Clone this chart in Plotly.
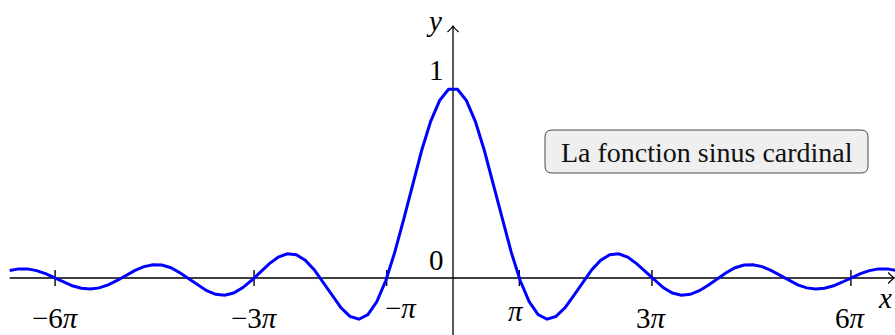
import math
import plotly.graph_objects as go

# Sample abscissae on [-21, 21] (100 points) and the plotted values of sin(x)/x
x_samples = [
    -21.000, -20.576, -20.152, -19.727, -19.303, -18.879, -18.455, -18.030, -17.606, -17.182,
    -16.758, -16.333, -15.909, -15.485, -15.061, -14.636, -14.212, -13.788, -13.364, -12.939,
    -12.515, -12.091, -11.667, -11.242, -10.818, -10.394, -9.970, -9.545, -9.121, -8.697,
    -8.273, -7.848, -7.424, -7.000, -6.576, -6.152, -5.727, -5.303, -4.879, -4.455,
    -4.030, -3.606, -3.182, -2.758, -2.333, -1.909, -1.485, -1.061, -0.636, -0.212,
    0.212, 0.636, 1.061, 1.485, 1.909, 2.333, 2.758, 3.182, 3.606, 4.030,
    4.455, 4.879, 5.303, 5.727, 6.152, 6.576, 7.000, 7.424, 7.848, 8.273,
    8.697, 9.121, 9.545, 9.970, 10.394, 10.818, 11.242, 11.667, 12.091, 12.515,
    12.939, 13.364, 13.788, 14.212, 14.636, 15.061, 15.485, 15.909, 16.333, 16.758,
    17.182, 17.606, 18.030, 18.455, 18.879, 19.303, 19.727, 20.152, 20.576, 21.000,
]
sinc_values = [
    0.040, 0.048, 0.048, 0.039, 0.023, 0.002, -0.021, -0.041, -0.054, -0.058,
    -0.052, -0.036, -0.013, 0.014, 0.040, 0.060, 0.070, 0.068, 0.054, 0.028,
    -0.004, -0.038, -0.067, -0.086, -0.091, -0.079, -0.052, -0.013, 0.033, 0.076,
    0.110, 0.127, 0.122, 0.094, 0.044, -0.021, -0.092, -0.157, -0.202, -0.217,
    -0.193, -0.124, -0.013, 0.136, 0.310, 0.494, 0.671, 0.823, 0.934, 0.993,
    0.993, 0.934, 0.823, 0.671, 0.494, 0.310, 0.136, -0.013, -0.124, -0.193,
    -0.217, -0.202, -0.157, -0.092, -0.021, 0.044, 0.094, 0.122, 0.127, 0.110,
    0.076, 0.033, -0.013, -0.052, -0.079, -0.091, -0.086, -0.067, -0.038, -0.004,
    0.028, 0.054, 0.068, 0.070, 0.060, 0.040, 0.014, -0.013, -0.036, -0.052,
    -0.058, -0.054, -0.041, -0.021, 0.002, 0.023, 0.039, 0.048, 0.048, 0.040,
]

# Axis graduations
tick_values = [-6 * math.pi, -3 * math.pi, -math.pi, math.pi, 3 * math.pi, 6 * math.pi]
tick_labels = ["−6<i>π</i>", "−3<i>π</i>", "−<i>π</i>", "<i>π</i>", "3<i>π</i>", "6<i>π</i>"]
y_label_values = [0, 1]
y_label_texts = ["0", "1"]
caption = "La fonction sinus cardinal"

# ---- geometry -------------------------------------------------------------
W, H = 895, 335
ORIGIN_PX = (453, 278)        # where (0, 0) sits in the page
PX_PER_X = 21.11
PX_PER_Y = 190.0
x_range = [-ORIGIN_PX[0] / PX_PER_X, (W - ORIGIN_PX[0]) / PX_PER_X]
y_range = [-(H - ORIGIN_PX[1]) / PX_PER_Y, ORIGIN_PX[1] / PX_PER_Y]

X_AXIS_START = -21.0
X_AXIS_END = 20.9
Y_AXIS_END = 1.326
TICK_HALF = 8 / PX_PER_Y

SERIF = "Liberation Serif"
LABEL_SIZE = 29
# per-label nudges (pixels) for the graduation labels
label_shift = {"−<i>π</i>": (14, -30), "<i>π</i>": (-3, -33)}
DEFAULT_SHIFT = (0, -40)

fig = go.Figure()

fig.add_trace(go.Scatter(
    x=x_samples, y=sinc_values, mode="lines",
    line=dict(color="#0000ff", width=3),
    hoverinfo="skip", showlegend=False,
))

shapes = []
# axes
shapes.append(dict(type="line", xref="x", yref="y", x0=X_AXIS_START, x1=X_AXIS_END, y0=0, y1=0,
                   line=dict(color="black", width=1.3), layer="below"))
shapes.append(dict(type="line", xref="x", yref="y", x0=0, x1=0, y0=y_range[0], y1=Y_AXIS_END,
                   line=dict(color="black", width=1.3), layer="below"))
# arrow heads (pixel paths anchored at the axis ends)
shapes.append(dict(type="path", xref="x", yref="y", xsizemode="pixel", ysizemode="pixel",
                   xanchor=X_AXIS_END, yanchor=0,
                   path="M-6,5.5 Q-2,1.2 0,0 Q-2,-1.2 -6,-5.5",
                   line=dict(color="black", width=1.2), fillcolor="rgba(0,0,0,0)", layer="below"))
shapes.append(dict(type="path", xref="x", yref="y", xsizemode="pixel", ysizemode="pixel",
                   xanchor=0, yanchor=Y_AXIS_END,
                   path="M-5.5,-6 Q-1.2,-2 0,0 Q1.2,-2 5.5,-6",
                   line=dict(color="black", width=1.2), fillcolor="rgba(0,0,0,0)", layer="below"))
# graduation marks
for tv in tick_values:
    shapes.append(dict(type="line", xref="x", yref="y", x0=tv, x1=tv, y0=-TICK_HALF, y1=TICK_HALF,
                       line=dict(color="black", width=1.4), layer="below"))

# rounded caption frame (page pixels -> paper fractions)
def px(p):
    return p / W


def py(p):
    return 1 - p / H


bl, br, bt, bb, rad = 545, 868, 130, 173, 7
frame = (
    f"M{px(bl + rad)},{py(bt)} L{px(br - rad)},{py(bt)} Q{px(br)},{py(bt)} {px(br)},{py(bt + rad)} "
    f"L{px(br)},{py(bb - rad)} Q{px(br)},{py(bb)} {px(br - rad)},{py(bb)} "
    f"L{px(bl + rad)},{py(bb)} Q{px(bl)},{py(bb)} {px(bl)},{py(bb - rad)} "
    f"L{px(bl)},{py(bt + rad)} Q{px(bl)},{py(bt)} {px(bl + rad)},{py(bt)} Z"
)
shapes.append(dict(type="path", xref="paper", yref="paper", path=frame,
                   fillcolor="#efefef", line=dict(color="#4a4a4a", width=1), layer="above"))

annotations = []
for tv, txt in zip(tick_values, tick_labels):
    dx, dy = label_shift.get(txt, DEFAULT_SHIFT)
    annotations.append(dict(x=tv, y=0, xref="x", yref="y", text=txt, showarrow=False,
                            xanchor="center", yanchor="middle", xshift=dx, yshift=dy,
                            font=dict(family=SERIF, size=LABEL_SIZE, color="black")))
for yv, txt in zip(y_label_values, y_label_texts):
    annotations.append(dict(x=0, y=yv, xref="x", yref="y", text=txt, showarrow=False,
                            xanchor="center", yanchor="middle", xshift=-17, yshift=18,
                            font=dict(family=SERIF, size=LABEL_SIZE, color="black")))
# axis names
annotations.append(dict(x=0, y=Y_AXIS_END, xref="x", yref="y", text="<i>y</i>", showarrow=False,
                        xanchor="center", yanchor="middle", xshift=-19, yshift=5,
                        font=dict(family=SERIF, size=LABEL_SIZE, color="black")))
annotations.append(dict(x=X_AXIS_END, y=0, xref="x", yref="y", text="<i>x</i>", showarrow=False,
                        xanchor="right", yanchor="middle", xshift=0, yshift=-20,
                        font=dict(family=SERIF, size=LABEL_SIZE, color="black")))
# caption
annotations.append(dict(x=px((bl + br) / 2), y=py((bt + bb) / 2 + 0.5), xref="paper", yref="paper",
                        text=caption, showarrow=False, xanchor="center", yanchor="middle",
                        font=dict(family=SERIF, size=28, color="#111111")))

fig.update_layout(
    width=W, height=H,
    margin=dict(l=0, r=0, t=0, b=0),
    paper_bgcolor="white", plot_bgcolor="white",
    font=dict(family=SERIF),
    xaxis=dict(range=x_range, visible=False, fixedrange=True),
    yaxis=dict(range=y_range, visible=False, fixedrange=True),
    shapes=shapes, annotations=annotations,
    showlegend=False,
)

fig.write_html("out.html", config={"displayModeBar": False, "staticPlot": True})
